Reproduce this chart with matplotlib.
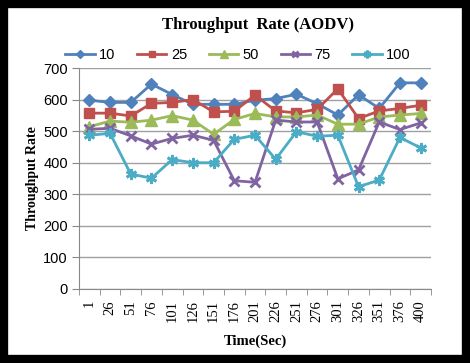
import matplotlib
matplotlib.use("Agg")
import matplotlib.pyplot as plt
from matplotlib.patches import Rectangle
import numpy as np

times = ["1", "26", "51", "76", "101", "126", "151", "176", "201", "226", "251",
         "276", "301", "326", "351", "376", "400"]
s10 = [598, 591, 591, 649, 616, 585, 585, 585, 598, 603, 617, 587, 551, 615, 572, 653, 653]
s25 = [557, 557, 548, 588, 591, 600, 561, 563, 614, 564, 558, 569, 634, 540, 564, 572, 582]
s50 = [514, 532, 528, 535, 549, 535, 490, 537, 556, 545, 545, 551, 522, 522, 545, 551, 556]
s75 = [506, 509, 485, 459, 477, 487, 471, 343, 338, 535, 529, 529, 349, 377, 529, 505, 526]
s100 = [487, 493, 364, 351, 410, 400, 400, 474, 487, 411, 498, 484, 487, 324, 345, 480, 447]
series_names = ["10", "25", "50", "75", "100"]
yticks = [0, 100, 200, 300, 400, 500, 600, 700]

colors = ["#4F81BD", "#C0504D", "#9BBB59", "#8064A2", "#4BACC6"]
markers = ["D", "s", "^", "x", (6, 2, 0)]
msizes = [6, 7, 8, 7, 8]

fig = plt.figure(figsize=(4.70, 3.63), dpi=100)
fig.patches.append(Rectangle((0.008, 0.011), 0.984, 0.978, transform=fig.transFigure,
                             fill=False, edgecolor="black", linewidth=6, zorder=10))
ax = fig.add_axes([79/470, 1-289/363, (431-79)/470, (289-68)/363])

x = np.arange(len(times))
for data, name, c, m, ms in zip([s10, s25, s50, s75, s100], series_names, colors, markers, msizes):
    ax.plot(x, data, color=c, marker=m, markersize=ms, linewidth=2, label=name,
            markeredgewidth=2 if m in ("x", (6, 2, 0)) else 1, markeredgecolor=c)

ax.set_ylim(0, 700)
ax.set_yticks(yticks)
ax.set_xlim(-0.5, len(times) - 0.5)
ax.set_xticks(x)
ax.set_xticklabels(times, rotation=90, fontfamily="Liberation Serif", fontsize=10.5)
ax.set_xticks(np.arange(-0.5, len(times), 1), minor=True)
ax.tick_params(axis="x", which="major", length=0, pad=8)
ax.tick_params(axis="x", which="minor", length=4, color="#888888")
ax.tick_params(axis="y", length=5, color="#888888", labelsize=10.5, pad=3)
for lab in ax.get_yticklabels():
    lab.set_fontfamily("Liberation Sans")
ax.yaxis.grid(True, color="#a0a0a0", linewidth=1)
ax.set_axisbelow(True)
for sp in ["top", "right"]:
    ax.spines[sp].set_visible(False)
ax.spines["left"].set_color("#888888")
ax.spines["bottom"].set_color("#888888")

ax.set_ylabel("Throughput Rate", fontfamily="Liberation Serif", fontweight="bold", fontsize=10,
              labelpad=3)
ax.set_xlabel("Time(Sec)", fontfamily="Liberation Serif", fontweight="bold", fontsize=10.5,
              labelpad=9)

fig.text(258/470, 1-25/363, "Throughput  Rate (AODV)", ha="center", va="center",
         fontfamily="Liberation Serif", fontweight="bold", fontsize=12)
fig.legend(loc="center", bbox_to_anchor=(238/470, 1-55/363), ncol=5, frameon=False,
           prop={"family": "Liberation Sans", "size": 10.5}, handlelength=2.0,
           handletextpad=0.3, columnspacing=1.5, markerscale=0.7)

fig.savefig("out.png", dpi=100)
